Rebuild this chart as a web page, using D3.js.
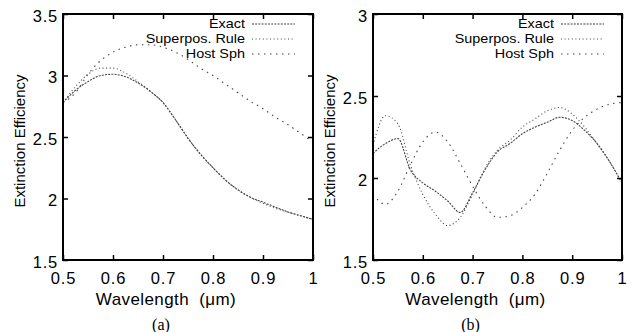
<!DOCTYPE html>
<html>
<head>
<meta charset="utf-8">
<script src="https://cdn.jsdelivr.net/npm/d3@7"></script>
<style>
  body { margin: 0; background: #fff; }
  svg { display: block; }
  .tick text { font-family: "Liberation Sans", Arial, sans-serif; }
</style>
</head>
<body>
<div id="main-chart"></div>
<script>
var wavelength = [0.5, 0.525, 0.55, 0.575, 0.6, 0.625, 0.65, 0.675, 0.7, 0.725, 0.75,
  0.775, 0.8, 0.825, 0.85, 0.875, 0.9, 0.925, 0.95, 0.975, 1.0];

// panel (a)
var exactA = [2.78, 2.88, 2.95, 3.0, 3.01, 2.99, 2.94, 2.87, 2.78, 2.64, 2.49,
  2.36, 2.25, 2.15, 2.07, 2.01, 1.97, 1.93, 1.89, 1.86, 1.83];
var superA = [2.78, 2.91, 3.01, 3.06, 3.06, 3.02, 2.95, 2.87, 2.78, 2.64, 2.49,
  2.36, 2.25, 2.15, 2.07, 2.01, 1.96, 1.92, 1.89, 1.86, 1.83];
var hostA = [2.78, 2.86, 3.01, 3.12, 3.19, 3.23, 3.25, 3.25, 3.23, 3.19, 3.13,
  3.06, 3.0, 2.93, 2.86, 2.79, 2.73, 2.66, 2.6, 2.53, 2.46];

// panel (b)
var exactB = [2.15, 2.21, 2.24, 2.05, 1.97, 1.92, 1.86, 1.79, 1.91, 2.05, 2.16,
  2.21, 2.27, 2.31, 2.34, 2.37, 2.35, 2.29, 2.21, 2.1, 1.97];
var superB = [2.2, 2.38, 2.33, 2.08, 1.9, 1.78, 1.71, 1.76, 1.9, 2.06, 2.17,
  2.23, 2.31, 2.36, 2.41, 2.43, 2.39, 2.31, 2.21, 2.1, 1.97];
var hostB = [1.9, 1.84, 1.92, 2.08, 2.22, 2.28, 2.22, 2.09, 1.95, 1.83, 1.76,
  1.77, 1.82, 1.9, 2.03, 2.17, 2.29, 2.37, 2.42, 2.45, 2.46];

var seriesNames = ["Exact", "Superpos. Rule", "Host Sph"];
var dashes = ["2,1.2", "1,2.6", "1.5,4.5"];
var xTicks = [0.5, 0.6, 0.7, 0.8, 0.9, 1];
var yTicksA = [1.5, 2, 2.5, 3, 3.5];
var yTicksB = [1.5, 2, 2.5, 3];

var width = 631, height = 332;
var sans = "Liberation Sans, Arial, sans-serif";
var svg = d3.select("#main-chart").append("svg")
  .attr("width", width).attr("height", height);
svg.append("rect").attr("width", width).attr("height", height).attr("fill", "#fff");

function panel(left, right, yDomain, yTicks, series, label) {
  var top = 14, bottom = 260;
  var x = d3.scaleLinear().domain([0.5, 1]).range([left, right]);
  var y = d3.scaleLinear().domain(yDomain).range([bottom, top]);
  var g = svg.append("g");

  // lines
  var line = d3.line()
    .x(function(d) { return x(d[0]); })
    .y(function(d) { return y(d[1]); })
    .curve(d3.curveMonotoneX);
  series.forEach(function(vals, i) {
    g.append("path")
      .attr("d", line(wavelength.map(function(w, j) { return [w, vals[j]]; })))
      .attr("fill", "none")
      .attr("stroke", "#444")
      .attr("stroke-width", 1.1)
      .attr("stroke-dasharray", dashes[i]);
  });

  // axes
  var fmt = function(d) { return d3.format("")(d); };
  g.append("g").attr("transform", "translate(0," + bottom + ")")
    .call(d3.axisBottom(x).tickValues(xTicks).tickFormat(fmt).tickSizeInner(-5).tickSizeOuter(0).tickPadding(12))
    .call(function(a) {
      a.select(".domain").remove();
      a.selectAll("text").attr("font-size", 16.5).attr("letter-spacing", 0.8);
    });
  g.append("g").attr("transform", "translate(0," + top + ")")
    .call(d3.axisTop(x).tickValues(xTicks).tickSizeInner(-5).tickSizeOuter(0).tickFormat(""))
    .call(function(a) { a.select(".domain").remove(); });
  g.append("g").attr("transform", "translate(" + left + ",0)")
    .call(d3.axisLeft(y).tickValues(yTicks).tickFormat(fmt).tickSizeInner(-5).tickSizeOuter(0).tickPadding(5))
    .call(function(a) {
      a.select(".domain").remove();
      a.selectAll("text").attr("font-size", 16.5).attr("letter-spacing", 0.8).attr("dy", "0.45em");
    });
  g.append("g").attr("transform", "translate(" + right + ",0)")
    .call(d3.axisRight(y).tickValues(yTicks).tickSizeInner(-5).tickSizeOuter(0).tickFormat(""))
    .call(function(a) { a.select(".domain").remove(); });

  g.selectAll(".tick line").attr("stroke", "#000").attr("stroke-width", 1.5);

  // frame
  g.append("rect")
    .attr("x", left).attr("y", top)
    .attr("width", right - left).attr("height", bottom - top)
    .attr("fill", "none").attr("stroke", "#000").attr("stroke-width", 2);

  // legend
  seriesNames.forEach(function(name, i) {
    var ly = 24 + i * 15;
    g.append("text")
      .attr("transform", "translate(" + (right - 68) + "," + (ly + 4) + ") scale(1.2,1)")
      .attr("text-anchor", "end")
      .attr("font-family", sans)
      .attr("font-size", 12)
      .text(name);
    g.append("line")
      .attr("x1", right - 61).attr("x2", right - 18)
      .attr("y1", ly).attr("y2", ly)
      .attr("stroke", "#444").attr("stroke-width", 1.1)
      .attr("stroke-dasharray", dashes[i]);
  });

  // titles
  g.append("text")
    .attr("transform", "translate(" + (left - 38) + "," + ((top + bottom) / 2 + 4) + ") rotate(-90)")
    .attr("text-anchor", "middle")
    .attr("font-family", sans)
    .attr("font-size", 15)
    .text("Extinction Efficiency");
  g.append("text")
    .attr("x", (left + right) / 2 - 22).attr("y", 305)
    .attr("text-anchor", "middle")
    .attr("font-family", sans)
    .attr("font-size", 17)
    .attr("letter-spacing", 0.4)
    .attr("xml:space", "preserve")
    .text("Wavelength  (\u03bcm)");
  g.append("text")
    .attr("x", (left + right) / 2 - 27).attr("y", 330)
    .attr("text-anchor", "middle")
    .attr("font-family", "Liberation Serif, Times New Roman, serif")
    .attr("font-size", 16)
    .text(label);
}

panel(63, 313, [1.5, 3.5], yTicksA, [exactA, superA, hostA], "(a)");
panel(373, 622, [1.5, 3], yTicksB, [exactB, superB, hostB], "(b)");
</script>
</body>
</html>
